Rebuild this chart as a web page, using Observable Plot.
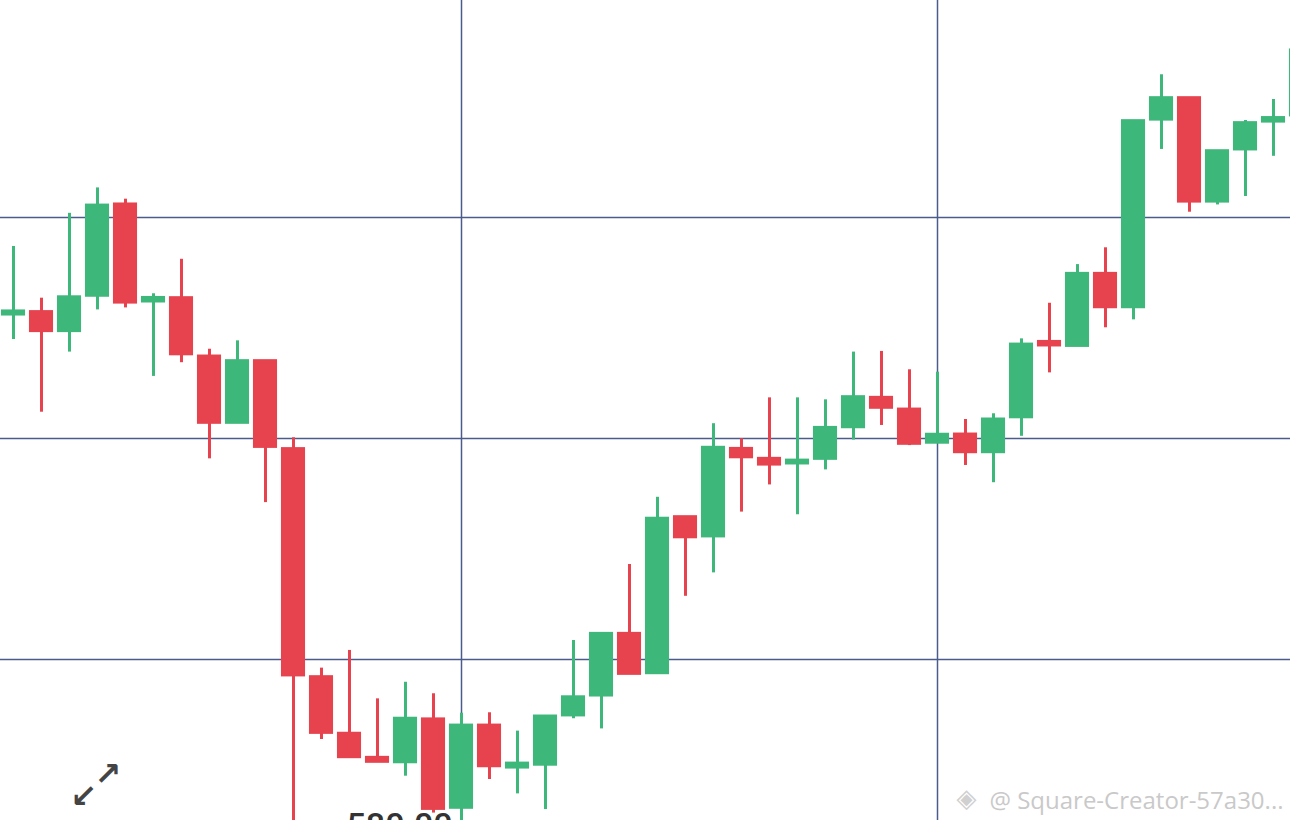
<!DOCTYPE html>
<html>
<head>
<meta charset="utf-8">
<script src="https://cdn.jsdelivr.net/npm/d3@7"></script>
<script src="https://cdn.jsdelivr.net/npm/@observablehq/plot@0.6"></script>
<style>
  html, body { margin: 0; padding: 0; background: #fff; overflow: hidden; }
  #chart svg { display: block; }
</style>
</head>
<body>
<div id="chart"></div>
<script>
// Candle data (price units)
const opens  = [605.61,605.72,604.86,606.46,610.59,606.20,606.35,603.71,600.71,603.50,
                599.52,589.20,586.64,585.55,585.35,587.29,583.29,587.01,585.11,585.24,
                587.47,588.37,591.16,589.38,596.44,595.57,599.53,599.08,598.87,599.08,
                600.51,601.84,601.31,599.81,600.18,599.38,600.96,604.37,604.19,607.45,
                605.94,614.43,615.40,610.72,613.08,614.34,614.62];
const closes = [605.75,604.86,606.39,610.54,606.15,606.36,603.81,600.71,603.50,599.62,
                589.28,586.68,585.58,585.37,587.32,583.24,587.01,585.17,585.29,587.42,
                588.29,591.16,589.35,596.37,595.53,599.58,599.15,598.82,599.00,600.48,
                601.87,601.39,599.76,600.17,599.38,600.86,604.25,604.21,607.45,605.94,
                614.36,615.40,610.72,613.00,614.27,614.50,617.56];
const highs  = [608.69,606.35,610.19,611.34,610.83,606.55,608.11,604.04,604.42,603.50,
                600.03,589.61,590.41,588.22,588.97,588.45,587.57,587.59,586.76,587.42,
                590.86,591.16,594.30,597.34,596.44,600.67,599.99,601.84,601.84,601.75,
                603.91,603.94,603.11,603.00,600.86,601.12,604.51,606.12,607.87,608.63,
                614.36,616.46,615.40,613.00,614.39,615.34,617.80];
const lows   = [604.48,601.19,603.91,605.82,605.91,602.81,603.43,599.08,600.70,597.10,
                580.00,586.38,585.54,585.34,584.72,583.05,582.62,584.57,583.92,583.21,
                587.32,586.86,589.35,589.38,592.86,593.92,596.67,597.90,596.55,598.58,
                599.93,600.59,599.68,599.81,598.78,598.00,600.10,602.97,604.19,605.01,
                605.37,613.08,610.24,610.57,610.95,612.77,614.30];

const priceGrid = [590, 600, 610];
const timeGrid = [16, 33];
const minLabel = ["580.00"];
const minLabelPrice = [583.08];
const minLabelIndex = [12];
const watermarkLogo = ["\u25C8"];
const watermark = ["@ Square-Creator-57a30..."];

const candles = opens.map((o, i) => ({
  i, open: o, close: closes[i], high: highs[i], low: lows[i],
  up: closes[i] >= o
}));
const labels = minLabel.map((t, k) => ({text: t, price: minLabelPrice[k], i: minLabelIndex[k]}));

const GREEN = "#3db77a";
const RED = "#e6434f";
const GRID = "#4a5b8c";

const chart = Plot.plot({
  width: 1290,
  height: 820,
  margin: 0,
  style: {background: "#ffffff", overflow: "hidden"},
  x: {domain: [-13/28, 1277/28], axis: null},
  y: {domain: [582.715, 619.82], axis: null},
  marks: [
    Plot.ruleY(priceGrid, {stroke: GRID, strokeWidth: 1.5}),
    Plot.ruleX(timeGrid, {stroke: GRID, strokeWidth: 1.5}),
    Plot.ruleX(candles, {
      x: "i", y1: "low", y2: "high",
      stroke: d => d.up ? GREEN : RED, strokeWidth: 3, clip: true
    }),
    Plot.rect(candles, {
      x1: d => d.i - 0.43, x2: d => d.i + 0.43,
      y1: "open", y2: "close",
      fill: d => d.up ? GREEN : RED,
      insetTop: -1.5, insetBottom: -1.5,
      clip: true
    }),
    Plot.text(labels, {
      x: "i", y: "price", text: "text",
      textAnchor: "start", lineAnchor: "top", dx: -3,
      fontSize: 34, fontWeight: 500, fill: "#333333",
      fontFamily: "Roboto, 'Noto Sans', sans-serif"
    }),
    Plot.text(["\u2197"], {
      frameAnchor: "bottom-left", dx: 94, dy: -36,
      fontSize: 32, fontWeight: "bold", fill: "#444444",
      fontFamily: "DejaVu Sans"
    }),
    Plot.text(["\u2199"], {
      frameAnchor: "bottom-left", dx: 70, dy: -14,
      fontSize: 32, fontWeight: "bold", fill: "#444444",
      fontFamily: "DejaVu Sans"
    }),
    Plot.text(watermarkLogo, {
      frameAnchor: "bottom-left", dx: 956, dy: -14,
      textAnchor: "start",
      fontSize: 26, fill: "#d0d0d0",
      fontFamily: "DejaVu Sans"
    }),
    Plot.text(watermark, {
      frameAnchor: "bottom-right", dx: -7, dy: -12,
      textAnchor: "end",
      fontSize: 24, fill: "#c9c9c9",
      fontFamily: "'Open Sans', 'Noto Sans', sans-serif"
    })
  ]
});
document.getElementById("chart").appendChild(chart);
</script>
</body>
</html>
